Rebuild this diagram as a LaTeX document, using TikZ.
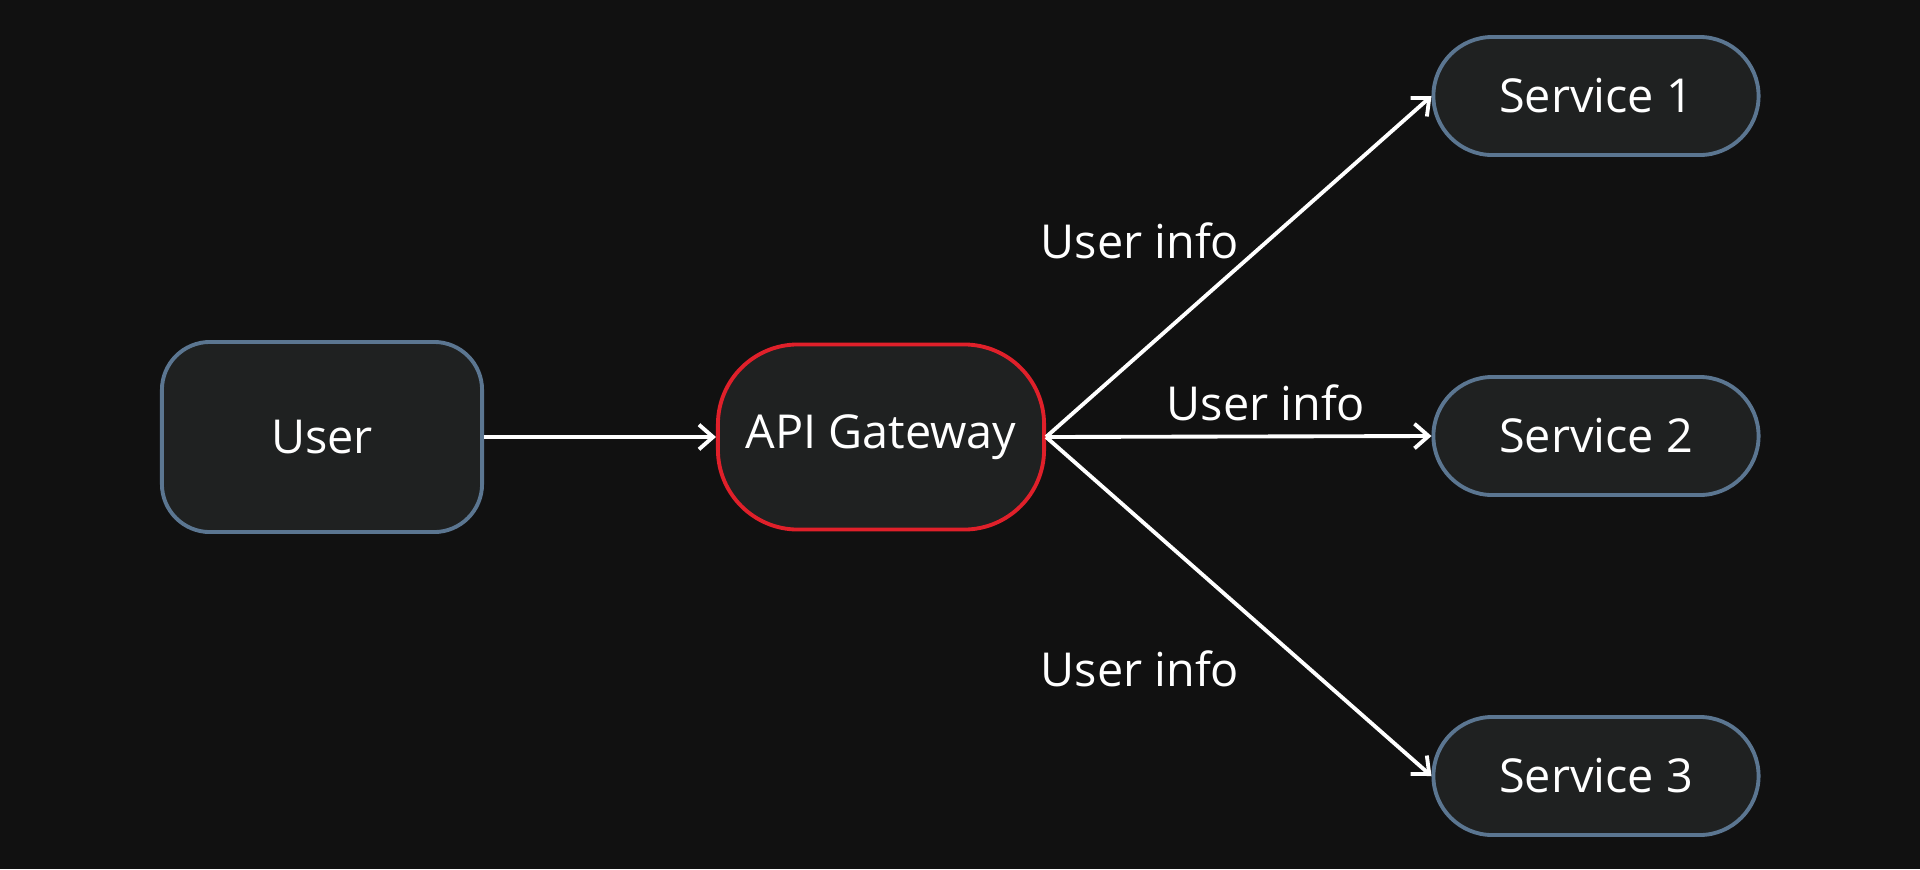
\documentclass[tikz,border=0pt]{standalone}
\usepackage{fontspec}
\setmainfont{Open Sans}
\usetikzlibrary{arrows.meta}
\definecolor{bg}{HTML}{111111}
\definecolor{boxfill}{HTML}{1F2121}
\definecolor{boxline}{HTML}{5B7691}
\definecolor{gwline}{HTML}{E0202A}
\begin{document}
\begin{tikzpicture}[x=0.01cm,y=-0.01cm,
  every node/.style={font=\fontsize{13.3}{15}\selectfont, text=white},
  box/.style={draw=boxline, fill=boxfill, line width=1.1pt, inner sep=0pt, align=center},
  conn/.style={draw=white, line width=1.1pt, -{Straight Barb[length=4pt,width=7pt,line width=1.1pt]}}]
\fill[bg] (0,0) rectangle (1920,869);
\useasboundingbox (0,0) rectangle (1920,869);
\node[box, rounded corners=0.48cm, minimum width=3.2cm, minimum height=1.9cm] (user) at (322,437) {User};
\node[box, draw=gwline, rounded corners=0.8cm, minimum width=3.26cm, minimum height=1.85cm] (gw) at (881,437) {API Gateway};
\node[box, rounded corners=0.59cm, minimum width=3.25cm, minimum height=1.18cm] (s1) at (1596,96) {Service 1};
\node[box, rounded corners=0.59cm, minimum width=3.25cm, minimum height=1.18cm] (s2) at (1596,436) {Service 2};
\node[box, rounded corners=0.59cm, minimum width=3.25cm, minimum height=1.18cm] (s3) at (1596,776) {Service 3};
\draw[conn] (user.east) -- (gw.west);
\draw[conn] (gw.east) -- (s1.west);
\draw[conn] (gw.east) -- (s2.west);
\draw[conn] (gw.east) -- (s3.west);
\node (l1) at (1140,241) {User info};
\node (l2) at (1266,403) {User info};
\node (l3) at (1140,669) {User info};
\end{tikzpicture}
\end{document}
